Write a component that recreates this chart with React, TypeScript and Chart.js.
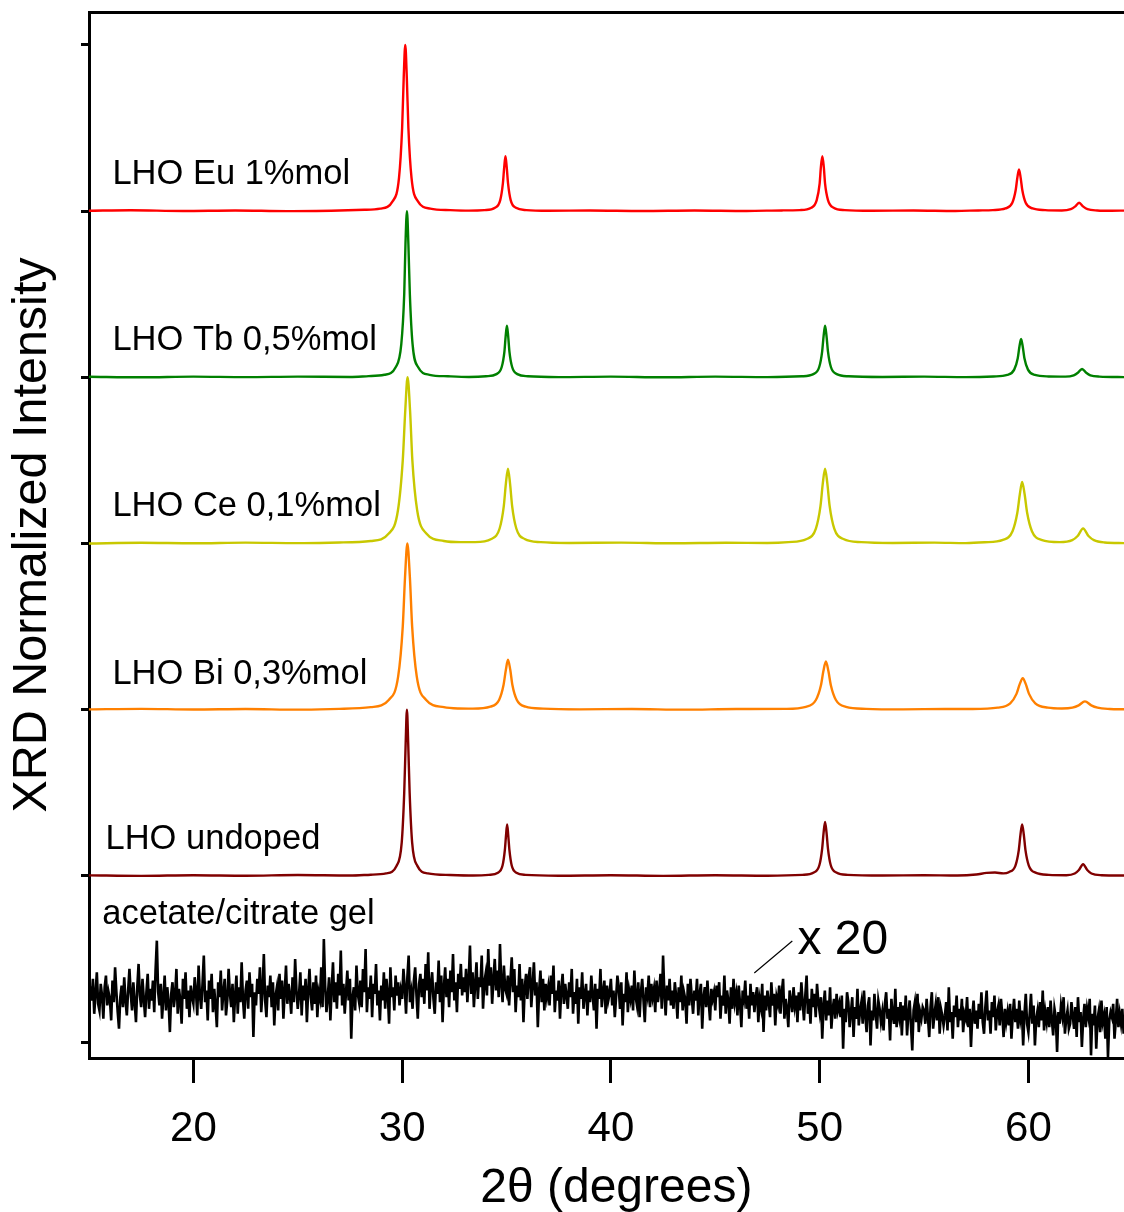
import React, { useEffect, useRef } from 'react';
import { Chart, registerables } from 'chart.js';

Chart.register(...registerables);

const FONT = '"Liberation Sans", Arial, Helvetica, sans-serif';

// axis ranges (2θ in degrees, y in stacked normalized units)
const X_MIN = 15;
const X_MAX = 64.58;
const Y_MIN = -0.096;
const Y_MAX = 6.198;
const xTickStep = 10;

// sample names, colours and vertical offsets (stacking)
const seriesNames = ['LHO Eu 1%mol', 'LHO Tb 0,5%mol', 'LHO Ce 0,1%mol', 'LHO Bi 0,3%mol', 'LHO undoped'];
const seriesColors = ['#ff0000', '#008000', '#c8c800', '#ff8000', '#800000'];
const seriesOffsets = [5, 4, 3, 2, 1];

// [2θ, normalized intensity]
const euPoints: number[][] = [
  [15, 0.002], [17, 0.005], [19.5, 0.001], [22, 0.004], [24.5, 0.0], [27, 0.004], [28.2, 0.008],
  [28.95, 0.015], [29.55, 0.06], [29.85, 0.2], [30.0, 0.5], [30.075, 0.8], [30.15, 1], [30.225, 0.8],
  [30.3, 0.5], [30.45, 0.2], [30.75, 0.06], [31.35, 0.015], [32.3, 0.006], [33.2, 0.003],
  [33.95, 0.006], [34.45, 0.02], [34.7, 0.066], [34.825, 0.165], [34.89, 0.264], [34.95, 0.33],
  [35.01, 0.264], [35.075, 0.165], [35.2, 0.066], [35.45, 0.02], [35.95, 0.006], [37, 0.002],
  [39, 0.004], [41.5, 0.001], [44, 0.004], [46.5, 0.001], [48.2, 0.004], [49.05, 0.006], [49.6, 0.02],
  [49.86, 0.066], [50.0, 0.165], [50.06, 0.264], [50.13, 0.33], [50.2, 0.264], [50.26, 0.165],
  [50.4, 0.066], [50.67, 0.02], [51.2, 0.006], [52.5, 0.002], [54.5, 0.004], [56.5, 0.001],
  [57.6, 0.004], [58.3, 0.006], [58.9, 0.016], [59.23, 0.05], [59.39, 0.125], [59.47, 0.2],
  [59.55, 0.25], [59.63, 0.2], [59.71, 0.125], [59.87, 0.05], [60.2, 0.016], [60.8, 0.006],
  [61.6, 0.004], [62.03, 0.012], [62.23, 0.027], [62.43, 0.05], [62.63, 0.027], [62.83, 0.012],
  [63.3, 0.004], [64.0, 0.002], [64.6, 0.003],
];

const tbPoints: number[][] = [
  [15, 0.003], [17.5, 0.0], [20, 0.004], [22.5, 0.001], [25, 0.004], [27.5, 0.002], [28.4, 0.007],
  [29.15, 0.015], [29.69, 0.06], [29.96, 0.2], [30.1, 0.5], [30.16, 0.8], [30.23, 1], [30.3, 0.8],
  [30.37, 0.5], [30.5, 0.2], [30.77, 0.06], [31.31, 0.015], [32.2, 0.006], [33.2, 0.002],
  [34.02, 0.006], [34.52, 0.019], [34.77, 0.062], [34.9, 0.155], [34.96, 0.248], [35.02, 0.31],
  [35.08, 0.248], [35.14, 0.155], [35.27, 0.062], [35.52, 0.019], [36.02, 0.006], [37.5, 0.001],
  [40, 0.004], [42.5, 0.0], [45, 0.004], [47.5, 0.001], [49.14, 0.006], [49.7, 0.019], [49.98, 0.062],
  [50.12, 0.155], [50.19, 0.248], [50.26, 0.31], [50.33, 0.248], [50.4, 0.155], [50.54, 0.062],
  [50.82, 0.019], [51.38, 0.006], [53, 0.002], [55, 0.004], [57, 0.001], [58.33, 0.005],
  [58.99, 0.014], [59.32, 0.046], [59.49, 0.115], [59.57, 0.184], [59.65, 0.23], [59.73, 0.184],
  [59.81, 0.115], [59.98, 0.046], [60.31, 0.014], [60.97, 0.005], [61.77, 0.004], [62.17, 0.012],
  [62.37, 0.027], [62.57, 0.05], [62.77, 0.027], [62.97, 0.012], [63.4, 0.004], [64.6, 0.001],
];

const cePoints: number[][] = [
  [15, 0.0], [17.5, 0.004], [20, 0.001], [22.5, 0.005], [25, 0.002], [27, 0.006], [28.5, 0.015],
  [29.36, 0.06], [29.8, 0.2], [30.03, 0.5], [30.15, 0.8], [30.26, 1], [30.38, 0.8], [30.49, 0.5],
  [30.72, 0.2], [31.16, 0.06], [32.0, 0.015], [32.8, 0.008], [33.5, 0.008], [34.27, 0.027],
  [34.67, 0.09], [34.87, 0.225], [34.97, 0.36], [35.07, 0.45], [35.17, 0.36], [35.27, 0.225],
  [35.47, 0.09], [35.87, 0.027], [36.64, 0.008], [38, 0.003], [40.5, 0.005], [43, 0.001],
  [45.5, 0.004], [47.5, 0.003], [48.5, 0.008], [49.38, 0.027], [49.82, 0.09], [50.04, 0.225],
  [50.15, 0.36], [50.26, 0.45], [50.37, 0.36], [50.48, 0.225], [50.7, 0.09], [51.14, 0.027],
  [52.0, 0.008], [53.5, 0.003], [55.5, 0.005], [57, 0.002], [57.9, 0.007], [58.78, 0.022],
  [59.24, 0.074], [59.47, 0.185], [59.59, 0.296], [59.7, 0.37], [59.82, 0.296], [59.94, 0.185],
  [60.17, 0.074], [60.62, 0.022], [61.5, 0.008], [62.1, 0.02], [62.36, 0.045], [62.62, 0.09],
  [62.88, 0.045], [63.14, 0.02], [63.65, 0.006], [64.6, 0.002],
];

const biPoints: number[][] = [
  [15, 0.002], [17.5, 0.005], [20, 0.001], [22.5, 0.004], [25, 0.0], [27, 0.005], [28.5, 0.015],
  [29.37, 0.06], [29.81, 0.2], [30.03, 0.5], [30.14, 0.8], [30.25, 1], [30.37, 0.8], [30.48, 0.5],
  [30.7, 0.2], [31.14, 0.06], [32.0, 0.015], [32.7, 0.007], [33.39, 0.006], [34.23, 0.018],
  [34.65, 0.06], [34.86, 0.15], [34.97, 0.24], [35.07, 0.3], [35.18, 0.24], [35.28, 0.15],
  [35.49, 0.06], [35.91, 0.018], [36.75, 0.006], [38.5, 0.002], [41, 0.004], [43.5, 0.0],
  [46, 0.004], [48.38, 0.005], [49.34, 0.017], [49.82, 0.058], [50.06, 0.145], [50.18, 0.232],
  [50.3, 0.29], [50.42, 0.232], [50.54, 0.145], [50.78, 0.058], [51.26, 0.017], [52.22, 0.005],
  [54, 0.002], [56, 0.004], [57.33, 0.004], [58.53, 0.012], [59.13, 0.038], [59.43, 0.095],
  [59.58, 0.152], [59.73, 0.19], [59.88, 0.152], [60.03, 0.095], [60.33, 0.038], [60.93, 0.012],
  [61.6, 0.007], [62.11, 0.012], [62.41, 0.026], [62.71, 0.05], [63.01, 0.026], [63.31, 0.012],
  [63.9, 0.004], [64.6, 0.002],
];

const undopedPoints: number[][] = [
  [15, 0.003], [17.5, 0.0], [20, 0.004], [22.5, 0.001], [25, 0.005], [27.5, 0.002], [28.5, 0.007],
  [29.23, 0.015], [29.73, 0.06], [29.98, 0.2], [30.1, 0.5], [30.17, 0.8], [30.23, 1], [30.29, 0.8],
  [30.36, 0.5], [30.48, 0.2], [30.73, 0.06], [31.23, 0.015], [32.3, 0.005], [33.4, 0.002],
  [34.15, 0.006], [34.59, 0.019], [34.81, 0.062], [34.92, 0.155], [34.98, 0.248], [35.03, 0.31],
  [35.08, 0.248], [35.14, 0.155], [35.25, 0.062], [35.47, 0.019], [35.91, 0.006], [37.5, 0.001],
  [40, 0.004], [42.5, 0.0], [45, 0.004], [47.5, 0.001], [49.18, 0.006], [49.72, 0.02], [49.99, 0.065],
  [50.12, 0.163], [50.19, 0.26], [50.26, 0.325], [50.33, 0.26], [50.4, 0.163], [50.53, 0.065],
  [50.8, 0.02], [51.34, 0.006], [53, 0.002], [55, 0.004], [56.6, 0.002], [57.5, 0.008], [58.0, 0.018],
  [58.4, 0.02], [58.8, 0.015], [59.06, 0.022], [59.38, 0.062], [59.54, 0.155], [59.62, 0.248],
  [59.7, 0.31], [59.78, 0.248], [59.86, 0.155], [60.02, 0.062], [60.34, 0.019], [60.98, 0.006],
  [61.82, 0.004], [62.22, 0.014], [62.42, 0.035], [62.62, 0.07], [62.82, 0.035], [63.02, 0.014],
  [63.5, 0.004], [64.6, 0.002],
];

const seriesPoints = [euPoints, tbPoints, cePoints, biPoints, undopedPoints];

// acetate/citrate gel (x 20), in hundredths of normalized intensity, sampled every 0.0625° (one row per degree)
const gelStart = 15;
const gelStep = 0.0625;
const gelIntensity: number[] = [
  20, 31, 25, 38, 17, 29, 42, 23, 19, 35, 28, 14, 33, 40, 22, 30,
  26, 13, 37, 24, 45, 30, 18, 8, 27, 34, 21, 39, 25, 16, 31, 44,
  29, 19, 36, 24, 12, 33, 47, 28, 21, 38, 26, 15, 30, 41, 20, 32,
  25, 37, 18, 43, 61, 30, 22, 35, 14, 27, 40, 19, 33, 24, 6, 29,
  36, 21, 28, 44, 17, 32, 25, 11, 38, 26, 42, 20, 31, 15, 34, 27,
  23, 39, 30, 16, 46, 28, 20, 35, 52, 24, 31, 13, 37, 26, 41, 18,
  32, 22, 9, 36, 27, 43, 19, 30, 38, 16, 25, 44, 29, 21, 35, 12,
  28, 40, 17, 33, 24, 48, 26, 14, 31, 37, 20, 42, 27, 35, 3, 30,
  22, 38, 29, 45, 18, 31, 53, 25, 15, 34, 27, 40, 21, 36, 10, 28,
  33, 19, 41, 26, 37, 14, 30, 46, 23, 35, 28, 17, 39, 24, 50, 31,
  20, 29, 42, 16, 34, 25, 38, 12, 31, 44, 27, 19, 36, 23, 40, 15,
  30, 26, 45, 21, 62, 34, 18, 27, 39, 13, 32, 48, 24, 36, 20, 41,
  28, 55, 22, 35, 17, 30, 43, 25, 38, 2, 27, 33, 19, 46, 29, 24,
  37, 21, 44, 30, 56, 18, 33, 26, 40, 15, 35, 29, 47, 22, 31, 13,
  34, 25, 42, 20, 38, 29, 11, 45, 27, 33, 19, 40, 28, 36, 22, 31,
  26, 44, 33, 17, 39, 52, 24, 30, 20, 37, 45, 28, 14, 35, 41, 27,
  38, 23, 47, 31, 54, 20, 34, 42, 26, 17, 36, 29, 49, 24, 40, 12,
  33, 45, 27, 38, 21, 43, 30, 53, 25, 36, 18, 41, 32, 47, 28, 39,
  30, 44, 24, 37, 58, 29, 42, 21, 35, 48, 26, 39, 33, 52, 20, 36,
  41, 28, 56, 34, 45, 23, 38, 50, 31, 43, 27, 59, 35, 24, 46, 32,
  29, 40, 22, 37, 51, 30, 44, 18, 34, 27, 47, 25, 38, 12, 33, 41,
  26, 39, 45, 21, 34, 48, 28, 36, 9, 31, 43, 24, 38, 19, 35, 27,
  33, 22, 40, 29, 46, 18, 31, 25, 37, 14, 32, 41, 23, 35, 28, 20,
  36, 27, 44, 17, 30, 23, 38, 11, 33, 26, 42, 20, 29, 35, 16, 31,
  24, 40, 28, 19, 35, 8, 32, 26, 44, 21, 30, 37, 17, 34, 25, 29,
  38, 22, 31, 15, 27, 40, 33, 20, 36, 10, 29, 24, 42, 18, 31, 26,
  34, 19, 43, 27, 22, 36, 15, 30, 38, 25, 12, 33, 28, 40, 21, 35,
  27, 32, 18, 37, 24, 30, 41, 20, 52, 29, 16, 34, 25, 38, 22, 31,
  20, 36, 28, 14, 33, 24, 40, 19, 30, 26, 11, 35, 22, 38, 27, 17,
  31, 25, 38, 16, 29, 35, 8, 27, 33, 21, 37, 24, 13, 32, 26, 30,
  19, 34, 27, 36, 14, 28, 22, 40, 17, 31, 25, 11, 33, 20, 38, 24,
  29, 16, 34, 23, 9, 31, 26, 37, 20, 28, 14, 35, 22, 30, 18, 27,
  33, 12, 26, 21, 35, 6, 28, 19, 31, 24, 15, 36, 22, 29, 10, 27,
  23, 34, 17, 30, 38, 14, 26, 20, 9, 31, 25, 18, 33, 22, 28, 12,
  30, 19, 36, 24, 13, 28, 40, 17, 26, 11, 32, 21, 29, 15, 35, 24,
  18, 27, 2, 22, 31, 13, 25, 16, 33, 8, 20, 26, 14, 29, 19, 23,
  15, 28, -4, 20, 12, 30, 24, 9, 18, 27, 3, 21, 14, 32, 10, 19,
  24, 11, 31, 16, 6, 22, 27, -2, 19, 13, 29, 17, 8, 25, 20, 12,
  18, 7, 23, 30, 14, 20, 1, 26, 16, 11, 32, 9, 21, 15, 24, 4,
  22, 13, 28, 4, 17, 25, 10, -5, 19, 24, 12, 29, 6, 18, 14, 21,
  19, 11, 26, 15, 3, 21, 30, 8, 17, 23, 13, 27, 5, 20, 16, 10,
  16, 24, 7, 33, 12, 18, 2, 22, 15, 28, 9, 20, 13, 26, 6, 17,
  14, 27, 9, 20, -3, 16, 25, 11, 19, 8, 23, 14, 30, 12, 5, 21,
  31, 13, 19, 5, 24, 15, 28, 7, 18, 22, 10, 26, 16, 3, 20, 12,
  18, 10, 23, 2, 16, 26, 12, 20, 8, 25, 14, 19, -2, 17, 29, 11,
  6, 17, 29, 11, 22, -2, 14, 19, 9, 24, 13, 31, 7, 18, 12, 21,
  9, 25, 13, 4, 20, 15, -6, 18, 11, 22, 16, 27, 5, 14, 19, 8,
  11, 24, 16, 8, 21, 3, 27, 12, 18, -3, 14, 23, 9, 20, 15, 26,
  -8, 17, 10, 22, -4, 14, 19, 6, 25, 12, 16, 2, 21, -9, 13, 18,
  15, 23, 2, 13, 26, 9, 17, 11, 20, 5,
];

// annotation texts placed in data coordinates [x, y]
const labelTexts = ['LHO Eu 1%mol', 'LHO Tb 0,5%mol', 'LHO Ce 0,1%mol', 'LHO Bi 0,3%mol', 'LHO undoped', 'acetate/citrate gel'];
const labelPos: number[][] = [[16.12, 5.163], [16.12, 4.164], [16.12, 3.165], [16.12, 2.154], [15.79, 1.161], [15.64, 0.71]];
const factorText = 'x 20';
const factorPos = [48.94, 0.53];
const factorLeader: number[][] = [[46.87, 0.415], [48.69, 0.608]];
const xTitle = '2θ (degrees)';
const yTitle = 'XRD Normalized Intensity';

const annotationPlugin = {
  id: 'annotations',
  afterDatasetsDraw(chart: any) {
    const { ctx } = chart;
    const xs = chart.scales.x;
    const ys = chart.scales.y;
    ctx.save();
    ctx.fillStyle = '#000';
    ctx.textAlign = 'left';
    ctx.textBaseline = 'alphabetic';
    ctx.font = `34.5px ${FONT}`;
    labelTexts.forEach((t, i) => {
      ctx.fillText(t, xs.getPixelForValue(labelPos[i][0]), ys.getPixelForValue(labelPos[i][1]));
    });
    ctx.font = `48px ${FONT}`;
    ctx.fillText(factorText, xs.getPixelForValue(factorPos[0]), ys.getPixelForValue(factorPos[1]));
    ctx.strokeStyle = '#000';
    ctx.lineWidth = 1.2;
    ctx.beginPath();
    ctx.moveTo(xs.getPixelForValue(factorLeader[0][0]), ys.getPixelForValue(factorLeader[0][1]));
    ctx.lineTo(xs.getPixelForValue(factorLeader[1][0]), ys.getPixelForValue(factorLeader[1][1]));
    ctx.stroke();
    ctx.restore();
  },
  afterDraw(chart: any) {
    const { ctx } = chart;
    const xs = chart.scales.x;
    ctx.save();
    ctx.fillStyle = '#000';
    ctx.font = `48px ${FONT}`;
    ctx.textAlign = 'center';
    ctx.textBaseline = 'alphabetic';
    ctx.fillText(xTitle, xs.getPixelForValue(40.26), chart.height - 10);
    ctx.restore();
  },
};

export default function App() {
  const ref = useRef<HTMLCanvasElement>(null);
  useEffect(() => {
    const datasets: any[] = seriesPoints.map((pts, i) => ({
      label: seriesNames[i],
      data: pts.map(([x, y]) => ({ x, y: y + seriesOffsets[i] })),
      borderColor: seriesColors[i],
      borderWidth: 2.4,
      pointRadius: 0,
      cubicInterpolationMode: 'monotone',
      fill: false,
    }));
    datasets.push({
      label: 'acetate/citrate gel',
      data: gelIntensity.map((v, i) => ({ x: gelStart + i * gelStep, y: v / 100 })),
      borderColor: '#000000',
      borderWidth: 2.6,
      pointRadius: 0,
      tension: 0,
      fill: false,
    });
    const chart = new Chart(ref.current as HTMLCanvasElement, {
      type: 'line',
      data: { datasets },
      options: {
        animation: false,
        responsive: false,
        devicePixelRatio: 1,
        layout: { padding: { top: 12, right: 0, left: 0, bottom: 0 } },
        plugins: { legend: { display: false }, tooltip: { enabled: false } },
        scales: {
          x: {
            type: 'linear',
            position: 'bottom',
            min: X_MIN,
            max: X_MAX,
            afterFit: (s: any) => { s.height = 154; },
            border: { display: true, color: '#000', width: 3 },
            grid: { display: true, drawOnChartArea: false, drawTicks: true, tickLength: 25, tickWidth: 3, tickColor: '#000' },
            ticks: { stepSize: xTickStep, includeBounds: false, autoSkip: false, maxRotation: 0, color: '#000', padding: 21, font: { family: FONT, size: 42 } },
          },
          x2: {
            type: 'linear',
            position: 'top',
            min: X_MIN,
            max: X_MAX,
            afterFit: (s: any) => { s.height = 0; },
            border: { display: true, color: '#000', width: 3 },
            grid: { display: false, drawTicks: false },
            ticks: { display: false },
          },
          y: {
            type: 'linear',
            position: 'left',
            min: Y_MIN,
            max: Y_MAX,
            afterFit: (s: any) => { s.width = 89; },
            border: { display: true, color: '#000', width: 3 },
            grid: { display: true, drawOnChartArea: false, drawTicks: true, tickLength: 8, tickWidth: 3, tickColor: '#000' },
            ticks: { display: false, stepSize: 1, includeBounds: false },
            title: { display: true, text: yTitle, color: '#000', font: { family: FONT, size: 48.5 }, padding: { top: 4, bottom: 0 } },
          },
        },
      },
      plugins: [annotationPlugin],
    });
    return () => chart.destroy();
  }, []);
  return (
    <div style={{ position: 'absolute', left: 0, top: 0, width: 1124, height: 1212, background: '#fff' }}>
      <canvas ref={ref} width={1124} height={1212} style={{ display: 'block', width: 1124, height: 1212 }} />
    </div>
  );
}
